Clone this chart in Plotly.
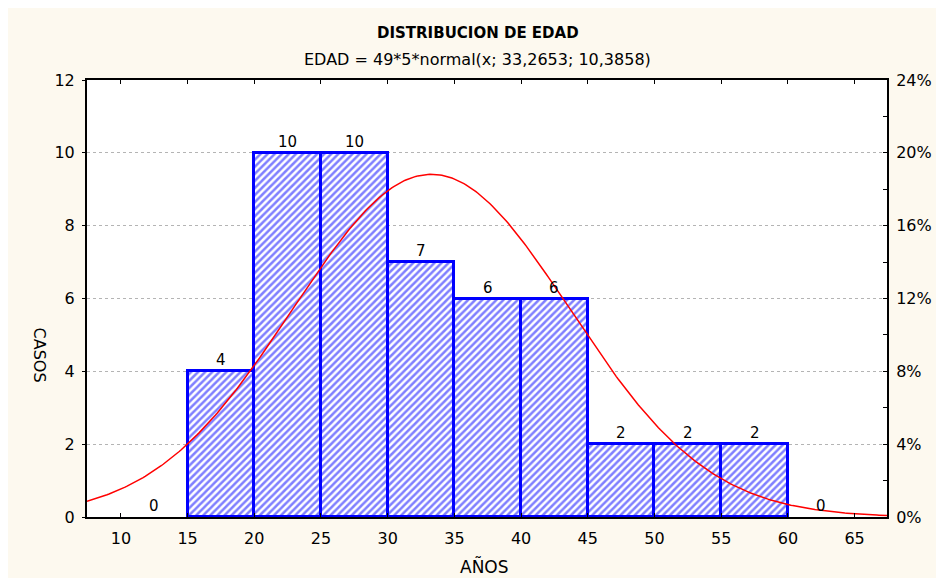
import numpy as np
import plotly.graph_objects as go

# ---- data ----
bin_starts = [10, 15, 20, 25, 30, 35, 40, 45, 50, 55, 60]
counts = [0, 4, 10, 10, 7, 6, 6, 2, 2, 2, 0]
n_total = 49
bin_width = 5
fit_mean = 33.2653
fit_sd = 10.3858
x_ticks = [10, 15, 20, 25, 30, 35, 40, 45, 50, 55, 60, 65]
y_ticks = [0, 2, 4, 6, 8, 10, 12]
pct_ticks = [0, 4, 8, 12, 16, 20, 24]
pct_labels = ["0%", "4%", "8%", "12%", "16%", "20%", "24%"]

title = "DISTRIBUCION DE EDAD"
subtitle = "EDAD = 49*5*normal(x; 33,2653; 10,3858)"
x_title = "AÑOS"
y_title = "CASOS"

FONT = "DejaVu Sans"
BLUE = "#0000ff"
RED = "#ff0000"
CREAM = "#fdf9ef"

centers = [b + bin_width / 2 for b in bin_starts]

xr = [7.46, 67.43]
xs = np.linspace(xr[0], xr[1], 400)
ys = n_total * bin_width * np.exp(-0.5 * ((xs - fit_mean) / fit_sd) ** 2) / (fit_sd * np.sqrt(2 * np.pi))

W, H = 936, 570
L, R, T, B = 79, 50, 72, 61
pw, ph = W - L - R, H - T - B


def px_to_paper(px, py):
    return (px - L) / pw, (H - B - py) / ph


fig = go.Figure()
fig.add_trace(go.Bar(
    x=centers, y=counts, width=bin_width,
    marker=dict(color="white",
                line=dict(color=BLUE, width=[3 if v > 0 else 0 for v in counts]),
                pattern=dict(shape="/", fgcolor=BLUE, bgcolor="white", size=5, solidity=0.5)),
    showlegend=False, hoverinfo="skip",
))
fig.add_trace(go.Scatter(x=xs, y=ys, mode="lines", line=dict(color=RED, width=1.5),
                         showlegend=False, hoverinfo="skip"))
# invisible trace on the percent axis
fig.add_trace(go.Scatter(x=[xr[0]], y=[0], yaxis="y2", mode="markers",
                         marker=dict(opacity=0), showlegend=False, hoverinfo="skip"))

for c, v in zip(centers, counts):
    fig.add_annotation(x=c, y=v, text=str(v), showarrow=False, yanchor="bottom",
                       yshift=0, font=dict(family=FONT, size=15, color="black"))


def label(px, py, text, size, angle=0):
    x, y = px_to_paper(px, py)
    fig.add_annotation(x=x, y=y, xref="paper", yref="paper", text=text, textangle=angle,
                       xanchor="center", yanchor="middle", showarrow=False,
                       font=dict(family=FONT, size=size, color="black"))


label(473, 25, "<b>" + title + "</b>", 15)
label(473, 52, subtitle, 16)
label(480, 558, x_title, 17)
label(32, 347, y_title, 16, angle=90)

tickfont = dict(family=FONT, size=16, color="black")
fig.update_layout(
    width=W, height=H, margin=dict(l=L, r=R, t=T, b=B),
    paper_bgcolor=CREAM, plot_bgcolor="white",
    bargap=0,
    xaxis=dict(range=xr, tickvals=x_ticks, ticks="inside", ticklen=4, tickcolor="black",
               showline=True, linecolor="black", linewidth=2, mirror="ticks",
               showgrid=False, zeroline=False, tickfont=tickfont, ticklabelstandoff=6),
    yaxis=dict(range=[0, 12], tickvals=y_ticks, ticks="outside", ticklen=3, tickcolor="black",
               showline=True, linecolor="black", linewidth=2,
               showgrid=True, gridcolor="#b4b4b4", griddash="dot", gridwidth=1,
               zeroline=False, tickfont=tickfont, ticklabelstandoff=4),
    yaxis2=dict(range=[0, 24], tickvals=pct_ticks, ticktext=pct_labels, overlaying="y", side="right",
                ticks="inside", ticklen=4, tickcolor="black",
                minor=dict(dtick=2, ticks="inside", ticklen=4, tickcolor="black"),
                showline=True, linecolor="black", linewidth=2, showgrid=False, zeroline=False,
                tickfont=tickfont, ticklabelstandoff=4),
    font=dict(family=FONT, color="black"),
)

fig.write_html("out.html")
